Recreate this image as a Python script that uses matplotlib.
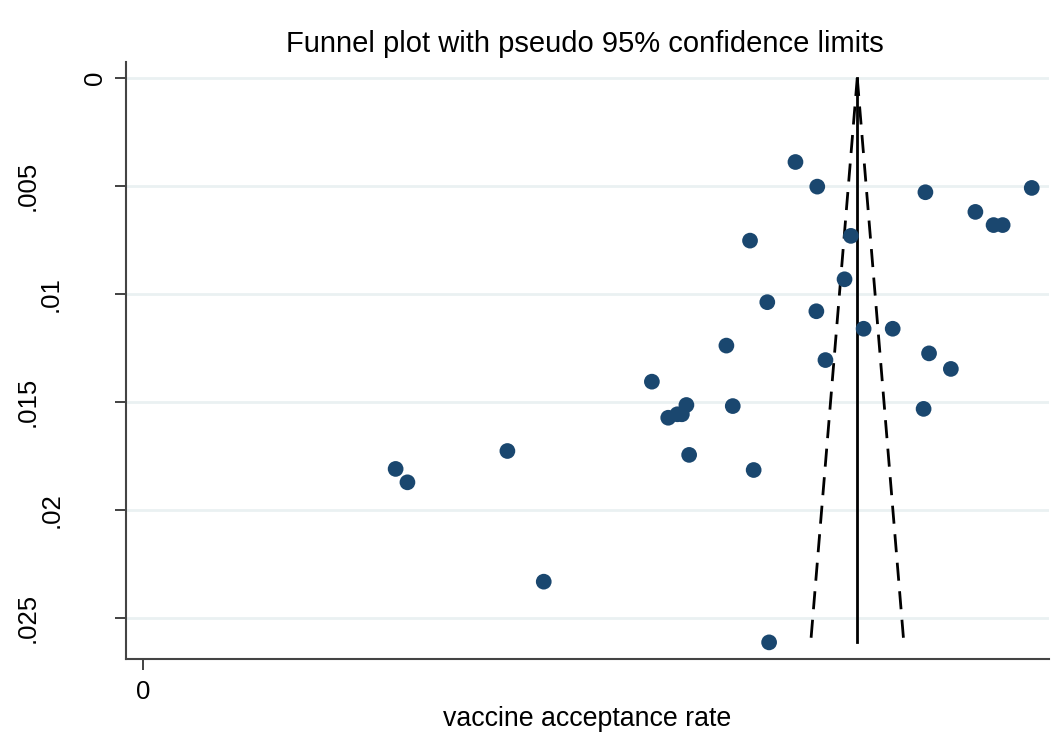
import numpy as np
import matplotlib
matplotlib.use("Agg")
import matplotlib.pyplot as plt
import matplotlib.transforms as mtransforms

plt.rcParams['font.family'] = ['Liberation Sans', 'DejaVu Sans']

# study estimates (acceptance rate) and standard errors
rate = [0.718, 0.742, 0.861, 0.978, 0.916, 0.936, 0.946, 0.668, 0.779, 0.772,
        0.687, 0.741, 0.793, 0.825, 0.642, 0.865, 0.751, 0.889, 0.560, 0.598,
        0.649, 0.859, 0.578, 0.588, 0.593, 0.601, 0.672, 0.278, 0.291, 0.401,
        0.441, 0.689]
se = [0.00389, 0.00503, 0.00529, 0.00509, 0.00620, 0.00681, 0.00681, 0.00753,
      0.00731, 0.00932, 0.01038, 0.01080, 0.01161, 0.01161, 0.01239, 0.01275,
      0.01306, 0.01347, 0.01406, 0.01514, 0.01519, 0.01532, 0.01573, 0.01557,
      0.01557, 0.01745, 0.01815, 0.01810, 0.01872, 0.01727, 0.02332, 0.02613]
pooled = 0.786

y_ticks = [0, 0.005, 0.01, 0.015, 0.02, 0.025]
y_labels = ['0', '.005', '.01', '.015', '.02', '.025']
x_ticks = [0]
x_labels = ['0']

# where the rotated y labels sit (pixels from the left edge), they are ragged in the original
ylab_px = [95, 28, 51, 28, 52, 28]

navy = '#1a476f'
grid_col = '#eaf1f2'

W, H = 1051, 736
fig = plt.figure(figsize=(W / 100, H / 100), dpi=100)
ax = fig.add_axes([126 / W, 1 - 659 / H, (1049 - 126) / W, (659 - 62) / H])

se_max = max(se)
ax.plot([pooled, pooled], [0, se_max], color='black', lw=2.0, zorder=3)
ax.plot([pooled, pooled - 1.96 * se_max], [0, se_max], color='black', lw=2.0,
        dashes=(6.5, 3.8), zorder=3)
ax.plot([pooled, pooled + 1.96 * se_max], [0, se_max], color='black', lw=2.0,
        dashes=(6.5, 3.8), zorder=3)

ax.scatter(rate, se, s=128, color=navy, edgecolors='none', zorder=4)

ax.set_xlim(-0.0187, 0.997)
ax.set_ylim(0.0269, -0.00074)

ax.set_yticks(y_ticks)
ax.set_yticklabels([])
ax.set_xticks(x_ticks)
ax.set_xticklabels(x_labels, fontsize=18.5)
ax.tick_params(axis='both', length=8, width=1.3, color='#333333')
ax.tick_params(axis='x', pad=7)

trans = mtransforms.blended_transform_factory(fig.transFigure, ax.transData)
for yv, lab, px in zip(y_ticks, y_labels, ylab_px):
    fig.text(px / W, yv, lab, transform=trans, rotation=90, ha='center',
             va='center', fontsize=18.5)

ax.grid(axis='y', color=grid_col, lw=2)
ax.set_axisbelow(True)

for s in ['top', 'right']:
    ax.spines[s].set_visible(False)
for s in ['left', 'bottom']:
    ax.spines[s].set_color('#444444')
    ax.spines[s].set_linewidth(1.5)

fig.text(587 / W, 1 - 726 / H, 'vaccine acceptance rate', ha='center',
         va='baseline', fontsize=19.3)
fig.text(585 / W, 1 - 52 / H, 'Funnel plot with pseudo 95% confidence limits',
         ha='center', va='baseline', fontsize=21)

fig.savefig('out.png', dpi=100)
